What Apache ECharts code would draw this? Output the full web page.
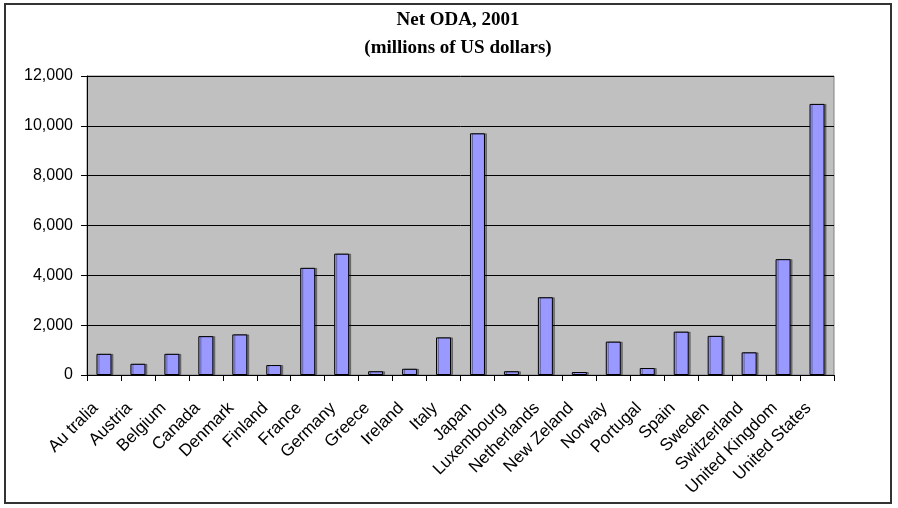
<!DOCTYPE html>
<html>
<head>
<meta charset="utf-8">
<script src="https://cdn.jsdelivr.net/npm/echarts@6/dist/echarts.min.js"></script>
<style>
  html, body { margin: 0; padding: 0; background: #fff; }
  #frame { position: absolute; left: 4px; top: 3px; width: 888px; height: 501px; border: 2px solid #333; box-sizing: border-box; }
  #chart { position: absolute; left: 0; top: 0; width: 898px; height: 508px; }
</style>
</head>
<body>
<div id="frame"></div>
<div id="chart"></div>
<script>
// Net official development assistance by donor country, 2001 (USD millions)
const countries = ['Au tralia', 'Austria', 'Belgium', 'Canada', 'Denmark', 'Finland', 'France', 'Germany',
  'Greece', 'Ireland', 'Italy', 'Japan', 'Luxembourg', 'Netherlands', 'New Zeland', 'Norway', 'Portugal',
  'Spain', 'Sweden', 'Switzerland', 'United Kingdom', 'United States'];
const netODA = [850, 450, 850, 1560, 1630, 400, 4300, 4870, 150, 250, 1510, 9700, 150, 3120, 120, 1340,
  280, 1740, 1570, 910, 4650, 10880];
const yTicks = { min: 0, max: 12000, interval: 2000 };

const chart = echarts.init(document.getElementById('chart'));
chart.setOption({
  animation: false,
  title: {
    text: 'Net ODA, 2001\n(millions of US dollars)',
    left: 453,
    top: 1,
    textAlign: 'center',
    textStyle: {
      fontFamily: 'Liberation Serif, Times New Roman, serif',
      fontWeight: 'bold',
      fontSize: 19,
      lineHeight: 28,
      color: '#000'
    }
  },
  grid: {
    left: 87, right: 64, top: 76, bottom: 133,
    show: true,
    backgroundColor: '#C0C0C0',
    borderColor: '#808080',
    borderWidth: 1
  },
  xAxis: {
    type: 'category',
    data: countries,
    boundaryGap: true,
    axisLine: { lineStyle: { color: '#000', width: 1 } },
    axisTick: { show: true, alignWithLabel: false, length: 6, lineStyle: { color: '#000' } },
    axisLabel: {
      interval: 0,
      rotate: 45,
      margin: 22,
      padding: [0, 12, 0, 0],
      fontFamily: 'Liberation Sans, Arial, sans-serif',
      fontSize: 17,
      color: '#000'
    }
  },
  yAxis: {
    type: 'value',
    min: yTicks.min,
    max: yTicks.max,
    interval: yTicks.interval,
    axisLine: { show: true, lineStyle: { color: '#000', width: 1 } },
    axisTick: { show: true, length: 6, lineStyle: { color: '#000' } },
    splitLine: { show: true, lineStyle: { color: '#000', width: 1 } },
    axisLabel: {
      margin: 14,
      fontFamily: 'Liberation Sans, Arial, sans-serif',
      fontSize: 16,
      color: '#000',
      formatter: v => v.toLocaleString('en-US')
    }
  },
  series: [{
    type: 'bar',
    data: netODA,
    barWidth: 15,
    itemStyle: {
      color: '#9999FF',
      borderColor: '#000',
      borderWidth: 1,
      shadowColor: 'rgba(0,0,0,0.35)',
      shadowOffsetX: 2,
      shadowOffsetY: 0,
      shadowBlur: 0
    }
  }]
});
</script>
</body>
</html>
